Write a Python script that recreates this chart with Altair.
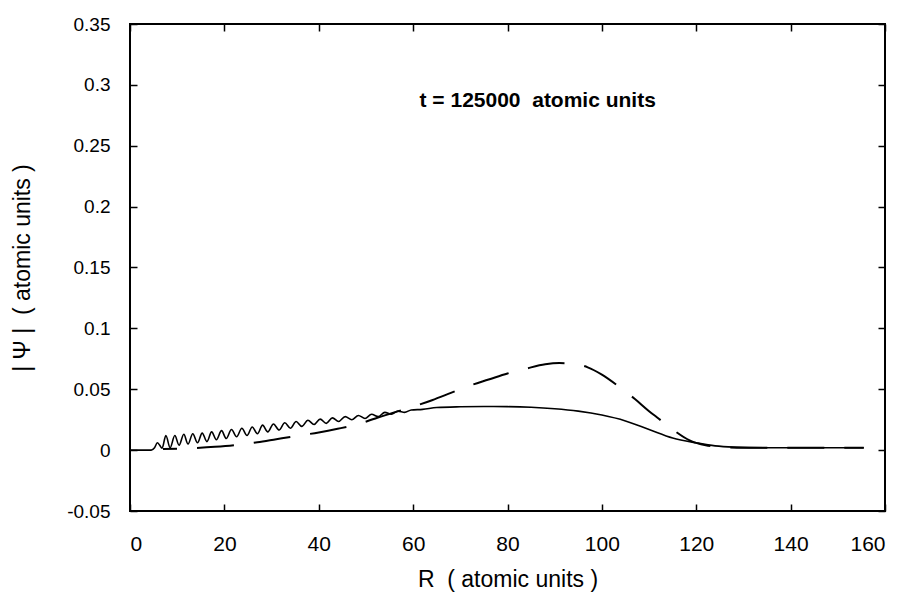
import altair as alt
import pandas as pd

# ---- data ----
solid_r = [0, 4.5, 5.2, 5.8, 6.3, 6.8,
           7.6, 8.5, 9.5, 10.4, 11.4, 12.3, 13.3, 14.3, 15.3, 16.3, 17.3, 18.3, 19.4, 20.4,
           21.5, 22.6, 23.7, 24.8, 25.9, 27.0, 28.1, 29.2, 30.4, 31.6, 32.8, 34.0, 35.2, 36.4,
           37.7, 39.0, 40.3, 41.6, 42.9, 44.2, 45.6, 47.0, 48.4, 49.8, 51.2, 52.6, 54.0, 55.4,
           56.8, 58.2, 59.6,
           62, 65, 70, 75, 80, 85, 90, 95, 100, 105, 110, 115, 120, 124, 128, 135, 145, 155.5]
solid_v = [0, 0, 0.002, 0.006, 0.004, 0.0015,
           0.012, 0.002, 0.012, 0.004, 0.013, 0.005, 0.0135, 0.006, 0.014, 0.007, 0.015, 0.0085,
           0.016, 0.0095, 0.017, 0.011, 0.018, 0.012, 0.019, 0.0135, 0.0205, 0.015, 0.0215, 0.0165,
           0.0225, 0.018, 0.0235, 0.0195, 0.0245, 0.021, 0.0255, 0.022, 0.0265, 0.0235, 0.0275,
           0.025, 0.0285, 0.026, 0.0295, 0.0275, 0.031, 0.0295, 0.032, 0.031, 0.033,
           0.0335, 0.035, 0.0356, 0.0358, 0.0357, 0.0352, 0.034, 0.032, 0.0288, 0.024, 0.017,
           0.010, 0.006, 0.0035, 0.0025, 0.002, 0.002, 0.002]

dash_r = [7, 10, 14, 18, 22, 27, 31, 35, 40, 44, 48, 52, 56, 59, 64, 68, 72, 76, 80, 84,
          88, 91, 94, 97, 100, 104, 107, 110, 112, 115, 118.6, 122, 126, 130, 155.5]
dash_v = [0.001, 0.0012, 0.0018, 0.0027, 0.004, 0.0065, 0.009, 0.0115, 0.0145, 0.0175,
          0.021, 0.026, 0.031, 0.0345, 0.041, 0.047, 0.053, 0.058, 0.063, 0.067,
          0.0705, 0.0715, 0.071, 0.068, 0.062, 0.051, 0.042, 0.032, 0.026, 0.017,
          0.008, 0.004, 0.0025, 0.002, 0.002]

x_ticks = [0, 20, 40, 60, 80, 100, 120, 140, 160]
y_ticks = [-0.05, 0, 0.05, 0.1, 0.15, 0.2, 0.25, 0.3, 0.35]

note_text = ["t = 125000 \u00a0atomic units"]
note_r = [86.4]
note_v = [0.2866]

solid_df = pd.DataFrame({"R": solid_r, "psi": solid_v})
dash_df = pd.DataFrame({"R": dash_r, "psi": dash_v})
note_df = pd.DataFrame({"R": note_r, "psi": note_v, "label": note_text})

FONT = "Liberation Sans"
NARROW = "Liberation Sans Narrow, Liberation Sans"

xscale = alt.Scale(domain=[0, 160], nice=False, zero=False)
yscale = alt.Scale(domain=[-0.05, 0.35], nice=False, zero=False)

common_axis = dict(offset=-7, tickSize=7, tickWidth=1.5, tickColor="black",
                   domain=False, grid=False)

x_bottom = alt.Axis(values=x_ticks, orient="bottom", title="R \u00a0( atomic units )",
                    labelFont=NARROW, labelFontSize=21, labelColor="black", labelPadding=22,
                    titleFont=NARROW, titleFontSize=23, titleFontWeight="normal",
                    titleColor="black", titlePadding=14, **common_axis)
y_left = alt.Axis(values=y_ticks, orient="left", title="| Ψ | \u00a0( atomic units )",
                  labelExpr="'' + datum.value",
                  labelFont=FONT, labelFontSize=19, labelColor="black", labelPadding=20,
                  titleFont=NARROW, titleFontSize=23, titleFontWeight="normal",
                  titleColor="black", titlePadding=32, **common_axis)
x_top = alt.Axis(values=x_ticks, orient="top", labels=False, title=None, **common_axis)
y_right = alt.Axis(values=y_ticks, orient="right", labels=False, title=None, **common_axis)

solid = alt.Chart(solid_df).mark_line(
    color="black", strokeWidth=1.6, interpolate="monotone"
).encode(
    x=alt.X("R:Q", scale=xscale, axis=x_bottom),
    y=alt.Y("psi:Q", scale=yscale, axis=y_left),
)

dashed = alt.Chart(dash_df).mark_line(
    color="black", strokeWidth=2, interpolate="monotone",
    strokeDash=[37, 20], strokeDashOffset=23
).encode(
    x=alt.X("R:Q", scale=xscale, axis=x_top),
    y=alt.Y("psi:Q", scale=yscale, axis=y_right),
)

note = alt.Chart(note_df).mark_text(
    font=FONT, fontSize=21, fontWeight="bold", color="black", align="center", baseline="middle"
).encode(
    x=alt.X("R:Q", scale=xscale, axis=None),
    y=alt.Y("psi:Q", scale=yscale, axis=None),
    text="label:N",
)

chart = alt.layer(solid, dashed, note).properties(
    width=755, height=487,
    autosize=alt.AutoSizeParams(type="none"),
    padding={"left": 130, "top": 24, "right": 24, "bottom": 86},
    background="white",
).configure_view(
    stroke="black", strokeWidth=2
)

chart.save("out.html", embed_options={"renderer": "svg", "actions": False})
